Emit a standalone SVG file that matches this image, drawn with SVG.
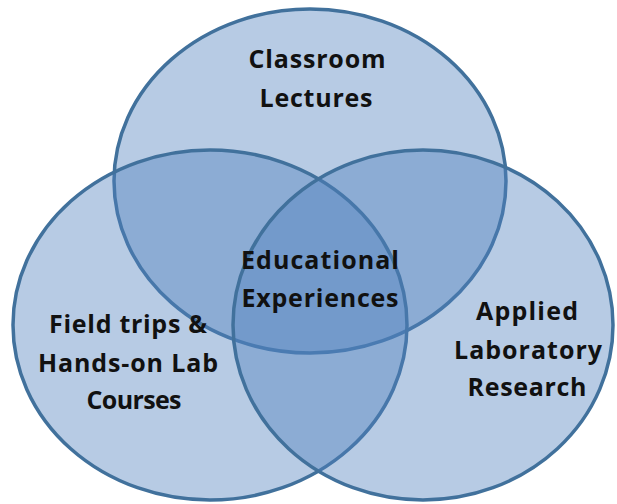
<svg xmlns="http://www.w3.org/2000/svg" width="617" height="504" viewBox="0 0 617 504">
  <style>
    .set { fill: #4f81bd; fill-opacity: 0.41; stroke: #41719c; stroke-width: 3.5; }
    .lbl { font-family: "Open Sans", "Lato", "Liberation Sans", sans-serif; font-weight: 700; font-size: 25px; fill: #111; text-anchor: middle; }
  </style>
  <rect width="617" height="504" fill="#ffffff"/>
  <g id="classroom-lectures">
    <ellipse class="set" cx="310" cy="181" rx="196" ry="172"/>
  </g>
  <g id="field-trips">
    <ellipse class="set" cx="210" cy="325" rx="197" ry="175"/>
  </g>
  <g id="applied-research">
    <ellipse class="set" cx="423" cy="325" rx="190" ry="175"/>
  </g>
  <g id="connectors"></g>
  <g id="labels">
    <text class="lbl" x="317" y="68" textLength="137" lengthAdjust="spacing">Classroom</text>
    <text class="lbl" x="316" y="107" textLength="113" lengthAdjust="spacing">Lectures</text>
    <text class="lbl" x="320" y="269" textLength="158" lengthAdjust="spacing">Educational</text>
    <text class="lbl" x="320" y="307" textLength="157" lengthAdjust="spacing">Experiences</text>
    <text class="lbl" x="128" y="333" textLength="158" lengthAdjust="spacing">Field trips &amp;</text>
    <text class="lbl" x="128" y="372" textLength="180" lengthAdjust="spacing">Hands-on Lab</text>
    <text class="lbl" x="134" y="409" textLength="95" lengthAdjust="spacing">Courses</text>
    <text class="lbl" x="527" y="320" textLength="102" lengthAdjust="spacing">Applied</text>
    <text class="lbl" x="528" y="359" textLength="148" lengthAdjust="spacing">Laboratory</text>
    <text class="lbl" x="527" y="396" textLength="119" lengthAdjust="spacing">Research</text>
  </g>
</svg>
